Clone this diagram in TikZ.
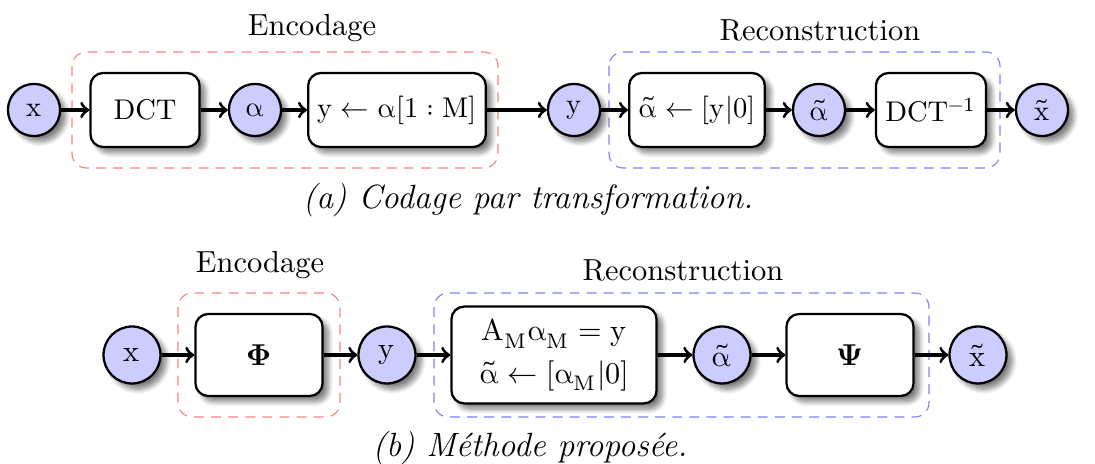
\documentclass[tikz,border=0pt]{standalone}
\usepackage[math-style=upright]{unicode-math}
\setmathfont{Latin Modern Math}
\usetikzlibrary{shadows.blur, positioning}

\tikzset{
  sig/.style={circle, draw, line width=0.8pt, fill=blue!20, minimum size=18.3pt, inner sep=0pt,
    blur shadow={shadow xshift=2pt, shadow yshift=-2pt, shadow blur steps=8, shadow opacity=50}},
  op/.style={rectangle, rounded corners=4.5pt, draw, line width=0.8pt, fill=white, minimum height=26pt,
    blur shadow={shadow xshift=2pt, shadow yshift=-2pt, shadow blur steps=8, shadow opacity=50}},
  flow/.style={->, line width=1.1pt},
  encbox/.style={draw=red!50, dash pattern=on 3.5pt off 2.5pt, rounded corners=5pt},
  recbox/.style={draw=blue!50, dash pattern=on 3.5pt off 2.5pt, rounded corners=5pt},
  rowb/.style={font=\fontsize{10.6}{13}\selectfont},
  grouplabel/.style={font=\fontsize{10.7}{13}\selectfont},
  caption/.style={font=\fontsize{11.8}{14}\selectfont\itshape},
}

\begin{document}
\begin{tikzpicture}[x=0.351pt, y=-0.351pt]
\useasboundingbox (0,0) rectangle (1095,464);

% (a) codage par transformation
\draw[encbox] (72,52) rectangle (498,168);
\draw[recbox] (609,52) rectangle (1000,168);
\node[grouplabel] (encA) at (312,28) {Encodage};
\node[grouplabel] (recA) at (820,30) {Reconstruction};

\node[sig] (xA) at (34,110) {$x$};
\node[op, minimum width=38.3pt] (dct) at (145,110) {DCT};
\node[sig] (alA) at (255,110) {$\alpha$};
\node[op, minimum width=60pt] (trunc) at (397,110) {$y \leftarrow \alpha[1:M]$};
\node[sig] (yA) at (574,110) {$y$};
\node[op, minimum width=46.3pt] (pad) at (697,110) {$\tilde{\alpha} \leftarrow [y|0]$};
\node[sig] (altA) at (819,110) {$\tilde{\alpha}$};
\node[op, minimum width=38.6pt] (idct) at (931,110) {DCT$^{-1}$};
\node[sig] (xtA) at (1042,110) {$\tilde{x}$};

\draw[flow] (xA) -- (dct);
\draw[flow] (dct) -- (alA);
\draw[flow] (alA) -- (trunc);
\draw[flow] (trunc) -- (yA);
\draw[flow] (yA) -- (pad);
\draw[flow] (pad) -- (altA);
\draw[flow] (altA) -- (idct);
\draw[flow] (idct) -- (xtA);

\node[caption] (capA) at (528,200) {(a) Codage par transformation.};

% (b) methode proposee
\begin{scope}[rowb]
\draw[encbox] (178,293) rectangle (340,417);
\draw[recbox] (434,293) rectangle (929,417);
\node[grouplabel] (encB) at (260,265) {Encodage};
\node[grouplabel] (recB) at (683,270) {Reconstruction};

\node[sig, minimum size=20pt] (xB) at (132,355) {$x$};
\node[op, minimum width=44.6pt, minimum height=28.8pt] (phi) at (259,355) {$\symbfup{\Phi}$};
\node[sig, minimum size=20pt] (yB) at (387,355) {$y$};
\node[op, minimum width=72pt, minimum height=34pt, align=center] (solve) at (554,355)
  {$A_M\alpha_M = y$\\[2pt] $\tilde{\alpha} \leftarrow [\alpha_M|0]$};
\node[sig, minimum size=20pt] (altB) at (722,355) {$\tilde{\alpha}$};
\node[op, minimum width=44.6pt, minimum height=28.8pt] (psi) at (850,355) {$\symbfup{\Psi}$};
\node[sig, minimum size=20pt] (xtB) at (978,355) {$\tilde{x}$};

\draw[flow] (xB) -- (phi);
\draw[flow] (phi) -- (yB);
\draw[flow] (yB) -- (solve);
\draw[flow] (solve) -- (altB);
\draw[flow] (altB) -- (psi);
\draw[flow] (psi) -- (xtB);
\end{scope}

\node[caption] (capB) at (530,448) {(b) Méthode proposée.};
\end{tikzpicture}
\end{document}
